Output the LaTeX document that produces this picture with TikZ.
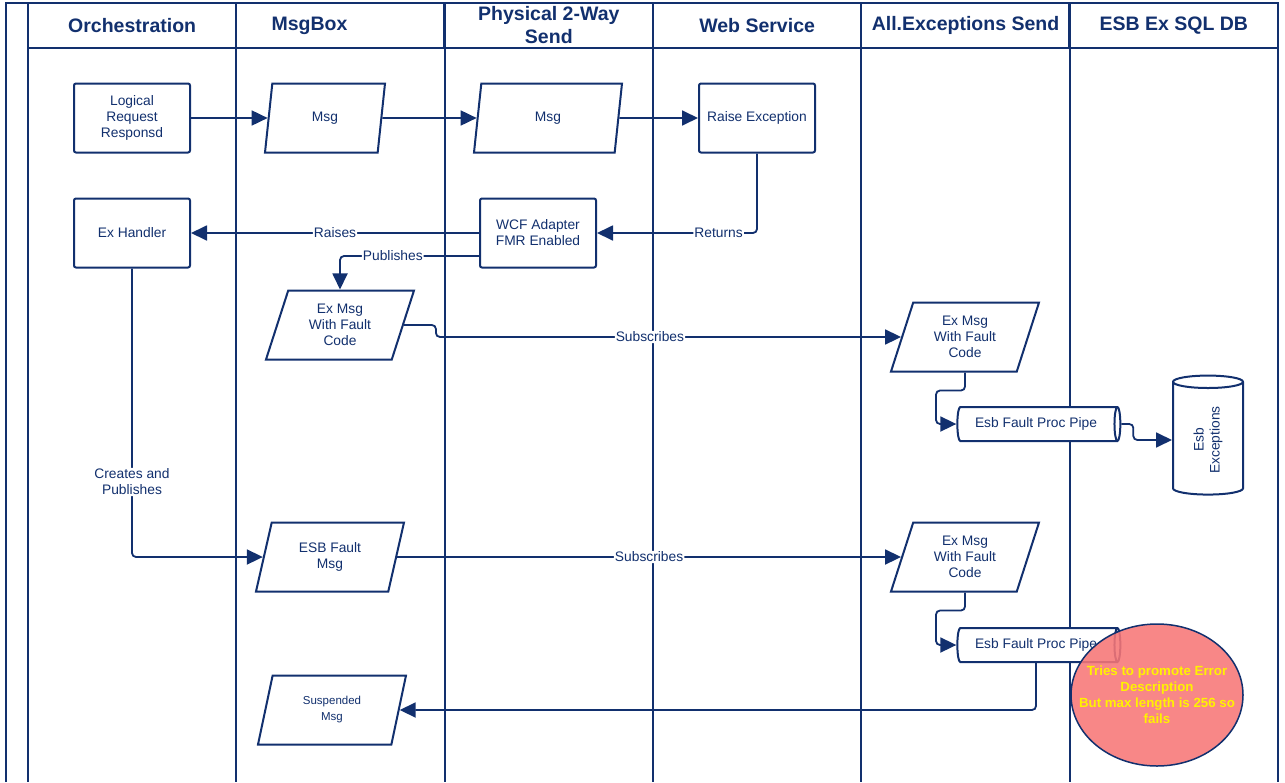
\documentclass[tikz,border=0pt]{standalone}
\usepackage{fontspec}
\setmainfont{Liberation Sans}
\usetikzlibrary{positioning, arrows.meta, shapes.geometric, calc}

\definecolor{navy}{HTML}{12306E}
\definecolor{alertred}{HTML}{F77676}
\definecolor{alerttext}{HTML}{FFF200}

\begin{document}
\begin{tikzpicture}[%
		x=1pt, y=-1pt,
		every node/.style={
			text=navy,
			font=\fontsize{13.8}{16}\selectfont
		},
		lanehead/.style={
			rectangle,
			draw=navy,
			line width=2pt,
			minimum width=208pt,
			minimum height=45pt,
			align=center,
			font=\fontsize{19.5}{23}\selectfont\bfseries
		},
		process/.style={
			rectangle,
			rounded corners=2pt,
			draw=navy,
			line width=2pt,
			minimum width=116pt,
			minimum height=69pt,
			align=center,
			fill=white
		},
		message/.style={
			trapezium,
			trapezium left angle=63,
			trapezium right angle=117,
			trapezium stretches body,
			draw=navy,
			line width=2pt,
			minimum width=148pt,
			minimum height=69pt,
			inner sep=1pt,
			align=center,
			fill=white
		},
		pipe/.style={
			cylinder,
			aspect=0.3,
			draw=navy,
			line width=2pt,
			minimum width=34pt,
			minimum height=163pt,
			fill=white
		},
		store/.style={
			cylinder,
			rotate=90,
			aspect=0.35,
			draw=navy,
			line width=2pt,
			minimum width=70pt,
			minimum height=119pt,
			align=center,
			fill=white
		},
		alert/.style={
			ellipse,
			draw=navy,
			line width=1.5pt,
			fill=alertred,
			fill opacity=0.88,
			text opacity=1,
			text=alerttext,
			minimum width=172pt,
			minimum height=142pt,
			inner xsep=-22pt,
			inner ysep=0pt,
			align=center,
			font=\fontsize{13.3}{16}\selectfont\bfseries
		},
		flowarrow/.style={
			navy,
			line width=1.8pt,
			rounded corners=4pt,
			-{Triangle[length=16pt,width=15pt]}
		},
		flowlabel/.style={
			fill=white,
			inner sep=1pt
		}]

		\useasboundingbox (0,0) rectangle (1285,782);

		% LANES

		\draw[navy, line width=2pt] (6,782) -- (6,3) -- (28,3);
		\foreach \i/\txt in {1/Orchestration, 2/{MsgBox\hspace*{62pt}}, 3/{Physical 2-Way\\Send},
			4/Web Service, 5/All.Exceptions Send, 6/ESB Ex SQL DB}
			\node (head\i) [lanehead] at (28+208.33*\i-104.17, 25.5) {\txt};
		\foreach \i in {0,...,6}
			\draw[navy, line width=2.2pt] (28+208.33*\i, 48) -- (28+208.33*\i, 782);

		% SHAPES

		\node (request) [process] at (132,118) {Logical\\Request\\Responsd};
		\node (msgA) [message, minimum width=120pt] at (325,118) {Msg};
		\node (msgB) [message] at (548,118) {Msg};
		\node (raise) [process] at (757,118) {Raise Exception};
		\node (handler) [process] at (132,233) {Ex Handler};
		\node (wcf) [process] at (538,233) {WCF Adapter\\FMR Enabled};
		\node (exmsg) [message] at (340,325) {Ex Msg\\With Fault\\Code};
		\node (faultmsg) [message] at (330,557) {ESB Fault\\Msg};
		\node (suspended) [message, font=\fontsize{11.5}{16}\selectfont] at (332,710) {Suspended\\Msg};
		\node (exmsgA) [message] at (965,337) {Ex Msg\\With Fault\\Code};
		\node (exmsgB) [message] at (965,557) {Ex Msg\\With Fault\\Code};
		\node (pipeA) [pipe] at (1036,424) {Esb Fault Proc Pipe};
		\node (pipeB) [pipe] at (1036,645) {Esb Fault Proc Pipe};
		\node (excdb) [store] at (1208,440) {Esb\\Exceptions};

		% LINES

		\draw[flowarrow] (request) -- (msgA);
		\draw[flowarrow] (msgA) -- (msgB);
		\draw[flowarrow] (msgB) -- (raise);
		\draw[flowarrow] (raise.south) |- node[flowlabel, pos=0.62] {Returns} (wcf.east);
		\draw[flowarrow] (wcf.west) -- node[flowlabel] {Raises} (handler.east);
		\draw[flowarrow] ($(wcf.west)+(0,23)$) -| node[flowlabel, pos=0.31] {Publishes} (exmsg.north);
		\draw[flowarrow] (exmsg.east) -- ++(32,0) |- node[flowlabel, pos=0.73] {Subscribes} (exmsgA.west);
		\draw[flowarrow] (exmsgA.south) -- ++(0,18) -- ++(-29,0) |- (pipeA.west);
		\draw[flowarrow] (pipeA.east) -- ++(12,0) |- (excdb.north);

		\draw[flowarrow] (handler.south) |- node[flowlabel, pos=0.37, align=center] {Creates and\\Publishes} (faultmsg.west);
		\draw[flowarrow] (faultmsg.east) -- node[flowlabel] {Subscribes} (exmsgB.west);
		\draw[flowarrow] (exmsgB.south) -- ++(0,18) -- ++(-29,0) |- (pipeB.west);
		\draw[flowarrow] (pipeB.south) |- (suspended.east);

		\node (failnote) [alert] at (1157,695) {Tries to promote Error\\Description\\But max length is 256 so\\fails};
\end{tikzpicture}
\end{document}
